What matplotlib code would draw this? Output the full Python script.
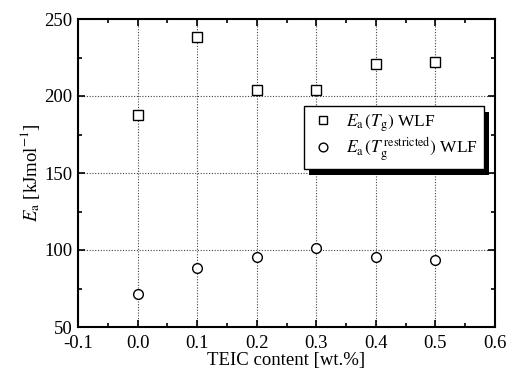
import matplotlib.pyplot as plt
import numpy as np
from matplotlib.patches import Rectangle

teic = [0.0, 0.1, 0.2, 0.3, 0.4, 0.5]
ea_tg = [187.5, 238.5, 204.0, 204.0, 221.0, 222.0]
ea_tg_restricted = [71.5, 88.5, 95.5, 101.0, 95.5, 93.5]

plt.rcParams["font.family"] = ["Liberation Serif", "DejaVu Serif"]
plt.rcParams["mathtext.fontset"] = "stix"

fig = plt.figure(figsize=(5.12, 3.72), dpi=100)
ax = fig.add_axes([78 / 512, 1 - 327 / 372, (495 - 78) / 512, (327 - 19) / 372])

ax.plot(teic, ea_tg, linestyle="none", marker="s", markersize=7,
        markerfacecolor="white", markeredgecolor="black", markeredgewidth=1.0,
        label=r"$E_{\mathrm{a}}\,(T_{\mathrm{g}})$ WLF", zorder=3)
ax.plot(teic, ea_tg_restricted, linestyle="none", marker="o", markersize=7,
        markerfacecolor="white", markeredgecolor="black", markeredgewidth=1.0,
        label=r"$E_{\mathrm{a}}\,(T_{\mathrm{g}}^{\,\mathrm{restricted}})$ WLF", zorder=3)

ax.set_xlim(-0.1, 0.6)
ax.set_ylim(50, 250)
ax.set_xticks(np.arange(-0.1, 0.61, 0.1))
ax.set_xticklabels(["-0.1", "0.0", "0.1", "0.2", "0.3", "0.4", "0.5", "0.6"])
ax.set_xticks(np.arange(-0.05, 0.6, 0.1), minor=True)
ax.set_yticks(np.arange(50, 251, 50))
ax.set_yticks(np.arange(75, 250, 50), minor=True)

ax.grid(True, which="major", linestyle=(0, (1, 1.5)), color="#444444", linewidth=0.8)
ax.tick_params(axis="both", which="both", direction="in", top=True, right=True,
               labelsize=13.5, width=1.2)
ax.tick_params(axis="x", which="major", length=5, pad=6)
ax.tick_params(axis="y", which="major", length=5, pad=4)
ax.tick_params(axis="both", which="minor", length=3)
for s in ax.spines.values():
    s.set_linewidth(1.5)

ax.set_xlabel("TEIC content [wt.%]", fontsize=13.5, labelpad=0)
ax.set_ylabel(r"$E_{\mathrm{a}}$ [kJmol$^{\mathrm{-1}}$]", fontsize=13.5, labelpad=2)

leg = ax.legend(loc="upper left", bbox_to_anchor=((304 - 78) / 417, 1 - (106 - 19) / 308),
                frameon=True, fancybox=False, shadow=False, fontsize=12.5,
                borderaxespad=0, handlelength=1.5, handletextpad=0.55,
                borderpad=0.35, labelspacing=0.1, markerscale=0.9)
leg.get_frame().set_edgecolor("black")
leg.get_frame().set_linewidth(1.0)
leg.get_frame().set_alpha(1)

fig.canvas.draw()
bb = leg.get_window_extent().transformed(ax.transAxes.inverted())
shadow = Rectangle((bb.x0 + 5 / 417, bb.y0 - 6 / 308), bb.width, bb.height,
                   transform=ax.transAxes, facecolor="black", edgecolor="none",
                   zorder=4, clip_on=False)
ax.add_patch(shadow)
leg.set_zorder(5)

fig.savefig("out.png", dpi=100)
